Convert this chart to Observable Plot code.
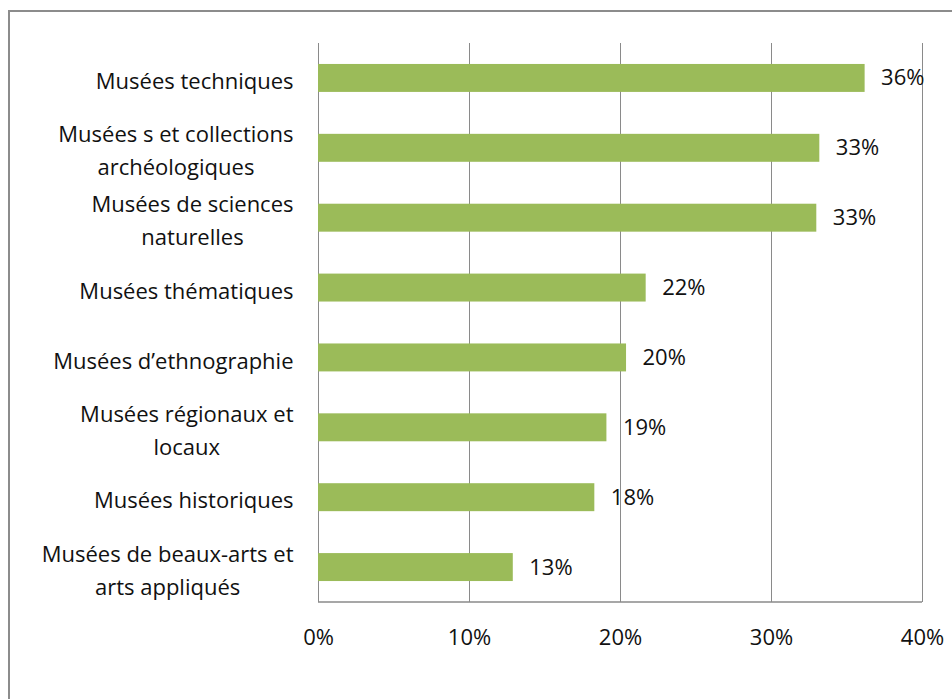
<!DOCTYPE html>
<html>
<head>
<meta charset="utf-8">
<script src="https://cdn.jsdelivr.net/npm/d3@7"></script>
<script src="https://cdn.jsdelivr.net/npm/@observablehq/plot@0.6"></script>
<style>
  html, body { margin: 0; padding: 0; background: #fff; width: 952px; height: 699px; overflow: hidden; }
  #border { position: absolute; left: 8px; top: 10px; width: 960px; height: 720px; border: 2px solid #8c8c8c; box-sizing: border-box; }
  #chart { position: absolute; left: 0; top: 0; }
</style>
</head>
<body>
<div id="border"></div>
<div id="chart"></div>
<script>
const categories = [
  "Musées techniques",
  "Musées s et collections\narchéologiques",
  "Musées de sciences\nnaturelles",
  "Musées thématiques",
  "Musées d’ethnographie",
  "Musées régionaux et\nlocaux",
  "Musées historiques",
  "Musées de beaux-arts et\narts appliqués"
];
const values = [36.2, 33.2, 33.0, 21.7, 20.4, 19.1, 18.3, 12.9];
const valueLabels = ["36%", "33%", "33%", "22%", "20%", "19%", "18%", "13%"];
const xTicks = [0, 10, 20, 30, 40];

const data = categories.map((c, i) => ({category: c, value: values[i], label: valueLabels[i]}));

const FONT = "'Open Sans', sans-serif";
const FS = 22;

// bottom baseline of the plot frame, drawn from Plot's own dimensions
function bottomLine(index, scales, values, dimensions) {
  const {width, height, marginLeft, marginRight, marginBottom} = dimensions;
  const y = height - marginBottom;
  const line = document.createElementNS("http://www.w3.org/2000/svg", "line");
  line.setAttribute("x1", marginLeft);
  line.setAttribute("x2", width - marginRight);
  line.setAttribute("y1", y);
  line.setAttribute("y2", y);
  line.setAttribute("stroke", "#8a8a8a");
  line.setAttribute("stroke-width", 1.5);
  return line;
}

const plot = Plot.plot({
  width: 952,
  height: 699,
  marginLeft: 318,
  marginRight: 30,
  marginTop: 43,
  marginBottom: 97,
  style: {fontFamily: FONT, fontSize: FS + "px", color: "#111", background: "transparent"},
  x: {domain: [0, 40], ticks: xTicks, tickFormat: d => d + "%", label: null},
  y: {domain: categories, paddingInner: 0.6, paddingOuter: 0.3, align: 0.5, round: false, label: null},
  marks: [
    Plot.gridX(xTicks, {stroke: "#8a8a8a", strokeOpacity: 1, strokeWidth: 1}),
    bottomLine,
    Plot.barX(data, {x: "value", y: "category", fill: "#9BBB59"}),
    Plot.text(data, {x: "value", y: "category", text: "label", textAnchor: "start", dx: 16, fontSize: FS, fill: "#111"}),
    Plot.axisX({ticks: xTicks, tickFormat: d => d + "%", tickSize: 0, tickPadding: 27, fontSize: FS, label: null}),
    Plot.axisY({tickSize: 0, tickPadding: 25, fontSize: FS, label: null, lineHeight: 1.5})
  ]
});
document.getElementById("chart").appendChild(plot);

// center the lines of multi-line tick labels against each other (block right-aligned)
d3.select(plot).selectAll("[aria-label='y-axis tick label'] text").each(function() {
  const t = d3.select(this);
  const tspans = t.selectAll("tspan").nodes();
  if (tspans.length < 2) return;
  const widths = tspans.map(n => n.getComputedTextLength());
  const maxW = Math.max(...widths);
  t.attr("text-anchor", "middle");
  const cur = +t.attr("x") || 0;
  t.attr("x", cur - maxW / 2);
  tspans.forEach(n => n.setAttribute("x", cur - maxW / 2));
});
</script>
</body>
</html>
